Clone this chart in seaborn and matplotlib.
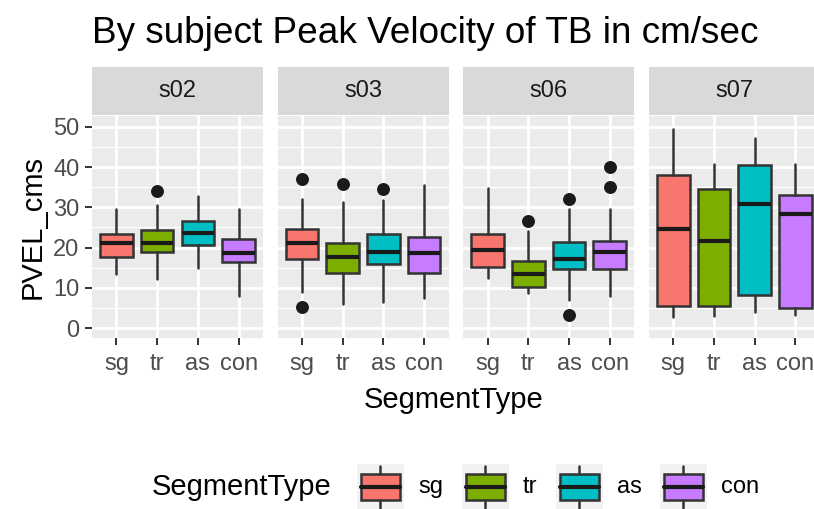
import matplotlib
matplotlib.use("Agg")
import matplotlib.pyplot as plt
import seaborn as sns
import pandas as pd
from matplotlib.patches import Rectangle
from matplotlib.lines import Line2D

# ---------------- data ----------------
subjects = ["s02", "s03", "s06", "s07"]
segments = ["sg", "tr", "as", "con"]
seg_colors = ["#F8766D", "#7CAE00", "#00BFC4", "#C77CFF"]

whisker_low = {"s02": [13.5, 12.2, 15.0, 8.0],
               "s03": [9.1, 6.0, 6.6, 7.6],
               "s06": [12.4, 8.8, 7.0, 8.1],
               "s07": [2.9, 3.1, 4.0, 3.3]}
q1 = {"s02": [17.8, 19.0, 20.6, 16.5],
      "s03": [17.2, 13.6, 16.0, 13.6],
      "s06": [15.1, 10.3, 14.7, 14.7],
      "s07": [5.6, 5.6, 8.3, 5.0]}
median = {"s02": [21.2, 21.1, 23.7, 18.6],
          "s03": [21.1, 17.8, 18.9, 18.6],
          "s06": [19.3, 13.4, 17.2, 18.9],
          "s07": [24.6, 21.7, 30.8, 28.3]}
q3 = {"s02": [23.3, 24.4, 26.5, 22.2],
      "s03": [24.6, 21.2, 23.3, 22.7],
      "s06": [23.4, 16.8, 21.5, 21.7],
      "s07": [37.9, 34.6, 40.5, 33.1]}
whisker_high = {"s02": [29.5, 30.6, 32.8, 29.5],
                "s03": [32.0, 31.2, 31.7, 35.6],
                "s06": [34.9, 24.1, 29.6, 29.6],
                "s07": [49.5, 40.7, 47.3, 40.7]}
outliers = {"s02": [[], [34.1], [], []],
            "s03": [[37.0, 5.2], [35.8], [34.6], []],
            "s06": [[], [26.7], [32.0, 3.3], [35.0, 40.1]],
            "s07": [[], [], [], []]}

y_ticks = [0, 10, 20, 30, 40, 50]
title = "By subject Peak Velocity of TB in cm/sec"
x_title = "SegmentType"
y_title = "PVEL_cms"
legend_title = "SegmentType"

# ---------------- style ----------------
sns.set_theme(style="white")
plt.rcParams["font.family"] = ["Liberation Sans", "DejaVu Sans"]

W, H = 814, 509
fig = plt.figure(figsize=(W / 100, H / 100), dpi=100)


def fig_rect(left, top, width, height):
    return [left / W, 1 - (top + height) / H, width / W, height / H]


panel_left0 = 92.0
panel_step = 185.6
panel_w = 171.0
panel_top = 116.0
panel_h = 222.3
strip_top = 67.3
strip_h = 47.7

LW_BOX = 1.8
LW_MED = 3.0
EDGE = "#333333"

pos = [1, 2, 3, 4]
for i, s in enumerate(subjects):
    left = panel_left0 + i * panel_step
    ax = fig.add_axes(fig_rect(left, panel_top, panel_w, panel_h))
    ax.set_facecolor("#EBEBEB")
    for sp in ax.spines.values():
        sp.set_visible(False)
    ax.set_xlim(0.4, 4.6)
    ax.set_ylim(-2.48, 52.65)
    ax.set_yticks(y_ticks)
    ax.set_yticks([5, 15, 25, 35, 45], minor=True)
    ax.grid(which="major", color="white", linewidth=2.0)
    ax.grid(which="minor", axis="y", color="white", linewidth=1.0)
    ax.set_axisbelow(True)

    stats = []
    for j in range(4):
        stats.append({"med": median[s][j], "q1": q1[s][j], "q3": q3[s][j],
                      "whislo": whisker_low[s][j], "whishi": whisker_high[s][j],
                      "fliers": outliers[s][j], "label": segments[j]})
    bp = ax.bxp(stats, positions=pos, widths=0.8, patch_artist=True,
                showcaps=False,
                boxprops=dict(edgecolor=EDGE, linewidth=LW_BOX),
                medianprops=dict(color="#1A1A1A", linewidth=LW_MED,
                                 solid_capstyle="butt"),
                whiskerprops=dict(color=EDGE, linewidth=LW_BOX),
                flierprops=dict(marker="o", markerfacecolor="#1A1A1A",
                                markeredgecolor="#1A1A1A", markersize=8.3,
                                linestyle="none"))
    for patch, c in zip(bp["boxes"], seg_colors):
        patch.set_facecolor(c)
    ax.set_xticks(pos)
    ax.set_xticklabels(segments)
    ax.tick_params(axis="both", which="major", length=5.0, width=1.4,
                   color="#333333", labelsize=17, labelcolor="#4D4D4D",
                   left=True, bottom=True)
    ax.tick_params(axis="x", pad=5.5)
    ax.tick_params(axis="y", pad=4.0)
    ax.tick_params(axis="both", which="minor", length=0)
    if i > 0:
        ax.tick_params(axis="y", left=False, labelleft=False)

    sax = fig.add_axes(fig_rect(left, strip_top, panel_w, strip_h))
    sax.set_facecolor("#D9D9D9")
    sax.set_xticks([])
    sax.set_yticks([])
    for sp in sax.spines.values():
        sp.set_visible(False)
    sax.text(0.5, 0.5, s, ha="center", va="center", fontsize=17,
             color="#1A1A1A", transform=sax.transAxes)

# overlay in pixel coordinates for titles and legend
ov = fig.add_axes([0, 0, 1, 1], zorder=10)
ov.set_xlim(0, W)
ov.set_ylim(H, 0)
ov.axis("off")
ov.patch.set_alpha(0)

ov.text(92, 43, title, fontsize=26.6, ha="left", va="baseline", color="black")
ov.text(454, 400, x_title, fontsize=21, ha="center", va="center", color="black")
ov.text(33, 227, y_title, fontsize=21, ha="center", va="center",
        rotation=90, color="black")

# legend
leg_cy = 487.0
ov.text(152, leg_cy, legend_title, fontsize=21, ha="left", va="center",
        color="black")
key_lefts = [357, 462, 556, 660]
text_lefts = [418, 523, 617, 721]
ks = 46.7
for kl, tl, c, lab in zip(key_lefts, text_lefts, seg_colors, segments):
    kt = leg_cy - ks / 2
    ov.add_patch(Rectangle((kl, kt), ks, ks, facecolor="#F2F2F2",
                           edgecolor="none"))
    cx = kl + ks / 2
    ov.add_line(Line2D([cx, cx], [kt + 0.05 * ks, kt + 0.22 * ks],
                       color=EDGE, linewidth=LW_BOX))
    ov.add_line(Line2D([cx, cx], [kt + 0.78 * ks, kt + 0.95 * ks],
                       color=EDGE, linewidth=LW_BOX))
    ov.add_patch(Rectangle((kl + 0.08 * ks, kt + 0.22 * ks), 0.84 * ks, 0.56 * ks,
                           facecolor=c, edgecolor=EDGE, linewidth=LW_BOX))
    ov.add_line(Line2D([kl + 0.08 * ks, kl + 0.92 * ks], [leg_cy, leg_cy],
                       color="#1A1A1A", linewidth=LW_MED))
    ov.text(tl, leg_cy, lab, fontsize=17, ha="left", va="center", color="black")

fig.savefig("out.png", dpi=100)
